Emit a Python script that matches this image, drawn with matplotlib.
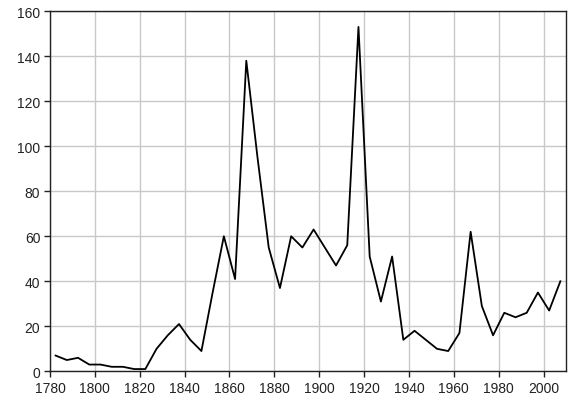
import matplotlib
matplotlib.use("Agg")
import matplotlib.pyplot as plt

# five-year periods, plotted at the middle of each period
years = [1782.5 + 5 * i for i in range(46)]
values = [7, 5, 6, 3, 3, 2, 2, 1, 1, 10,
          16, 21, 14, 9, 35, 60, 41, 138, 95, 55,
          37, 60, 55, 63, 55, 47, 56, 153, 51, 31,
          51, 14, 18, 14, 10, 9, 17, 62, 29, 16,
          26, 24, 26, 35, 27, 40]

xticks = list(range(1780, 2001, 20))
yticks = list(range(0, 161, 20))

plt.rcParams['font.family'] = ['Liberation Sans', 'DejaVu Sans']

fig = plt.figure(figsize=(5.76, 4.06), dpi=100)
ax = fig.add_axes([0.0868, 0.083, 0.8958, 0.887])

ax.plot(years, values, color='black', linewidth=1.3)

ax.set_xlim(1780, 2010)
ax.set_ylim(0, 160)
ax.set_xticks(xticks)
ax.set_yticks(yticks)
ax.grid(True, color='#c8c8c8', linewidth=1.0)
ax.set_axisbelow(True)

for s in ax.spines.values():
    s.set_color('#222222')
    s.set_linewidth(1.0)

ax.tick_params(direction='out', length=4, width=1.0, color='#222222',
               labelsize=10, labelcolor='#222222', pad=3)

fig.savefig('out.png', dpi=100)
